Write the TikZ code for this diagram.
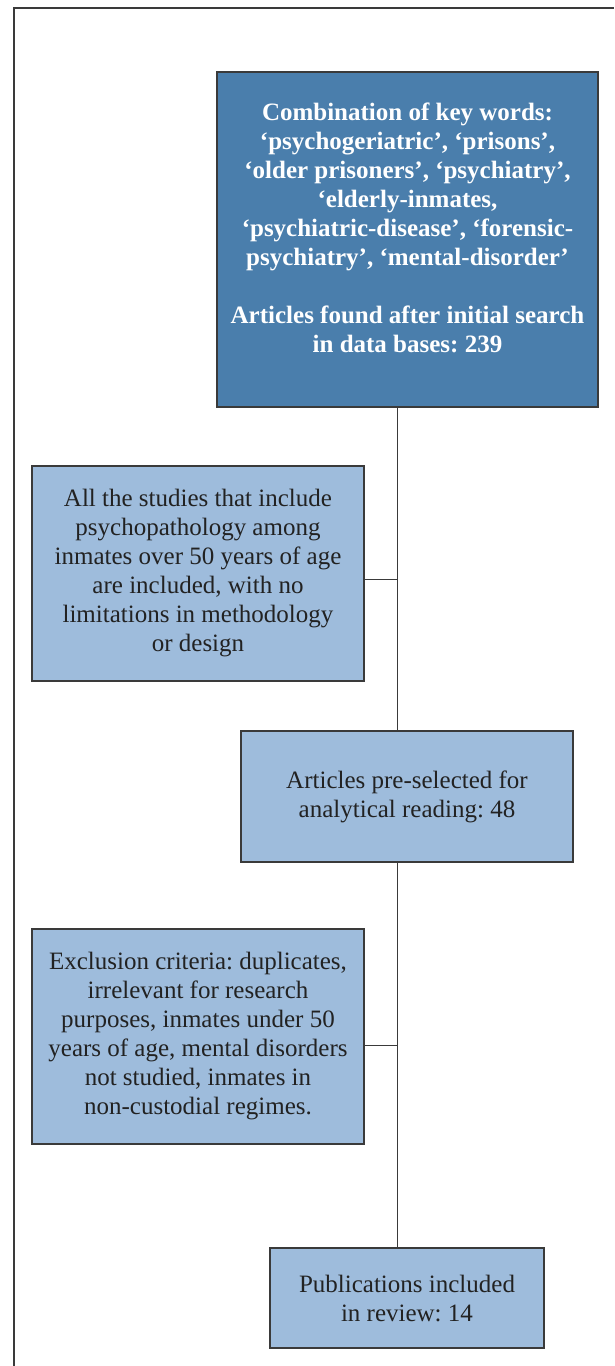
\documentclass[tikz,border=0pt]{standalone}
\usepackage{fontspec}
\setmainfont{Liberation Serif}
\frenchspacing
\definecolor{darkbox}{HTML}{4A7EAC}
\definecolor{lightbox}{HTML}{9EBCDC}
\definecolor{edgecol}{HTML}{3A3A3A}
\definecolor{txt}{HTML}{222222}
\begin{document}
\begin{tikzpicture}[x=1pt,y=-1pt,
  box/.style={draw=edgecol, line width=1.1pt, fill=lightbox, inner sep=0pt, text=txt, align=center, font=\fontsize{25}{29}\selectfont},
  link/.style={draw=edgecol, line width=1pt},
  frameline/.style={draw=edgecol, line width=1.1pt}]
\useasboundingbox (0,0) rectangle (614,1366);
\draw[frameline] (14,1366) -- (14,8) -- (614,8);
\coordinate (spine) at (397,0);
\node[box, fill=darkbox, minimum width=381pt, minimum height=335pt] (search) at (407.5,239.5) {};
\node[text=white, align=center, inner sep=0pt, font=\fontsize{25}{29}\selectfont\bfseries] (searchtext) at (407.5,228) {Combination of key words:\\
‘psychogeriatric’, ‘prisons’,\\
‘older prisoners’, ‘psychiatry’,\\
‘elderly-inmates,\\
‘psychiatric-disease’, ‘forensic-\\
psychiatry’, ‘mental-disorder’\\[29pt]
Articles found after initial search\\
in data bases: 239};
\node[box, minimum width=332pt, minimum height=215pt] (incl) at (198,573.5) {All the studies that include\\
psychopathology among\\
inmates over 50 years of age\\
are included, with no\\
limitations in methodology\\
or design};
\node[box, minimum width=332pt, minimum height=131pt] (pre) at (407,796.5) {Articles pre-selected for\\
analytical reading: 48};
\node[box, minimum width=332pt, minimum height=215pt] (excl) at (198,1036.5) {Exclusion criteria: duplicates,\\
irrelevant for research\\
purposes, inmates under 50\\
years of age, mental disorders\\
not studied, inmates in\\
non-custodial regimes.};
\node[box, minimum width=274pt, minimum height=100pt] (pub) at (407,1298) {Publications included\\
in review: 14};
\draw[link] (search.south -| spine) -- (pre.north -| spine);
\draw[link] (pre.south -| spine) -- (pub.north -| spine);
\draw[link] ([yshift=-5.5pt]incl.east) -- ([yshift=-5.5pt]incl.east -| spine);
\draw[link] ([yshift=-8.5pt]excl.east) -- ([yshift=-8.5pt]excl.east -| spine);
\end{tikzpicture}
\end{document}
